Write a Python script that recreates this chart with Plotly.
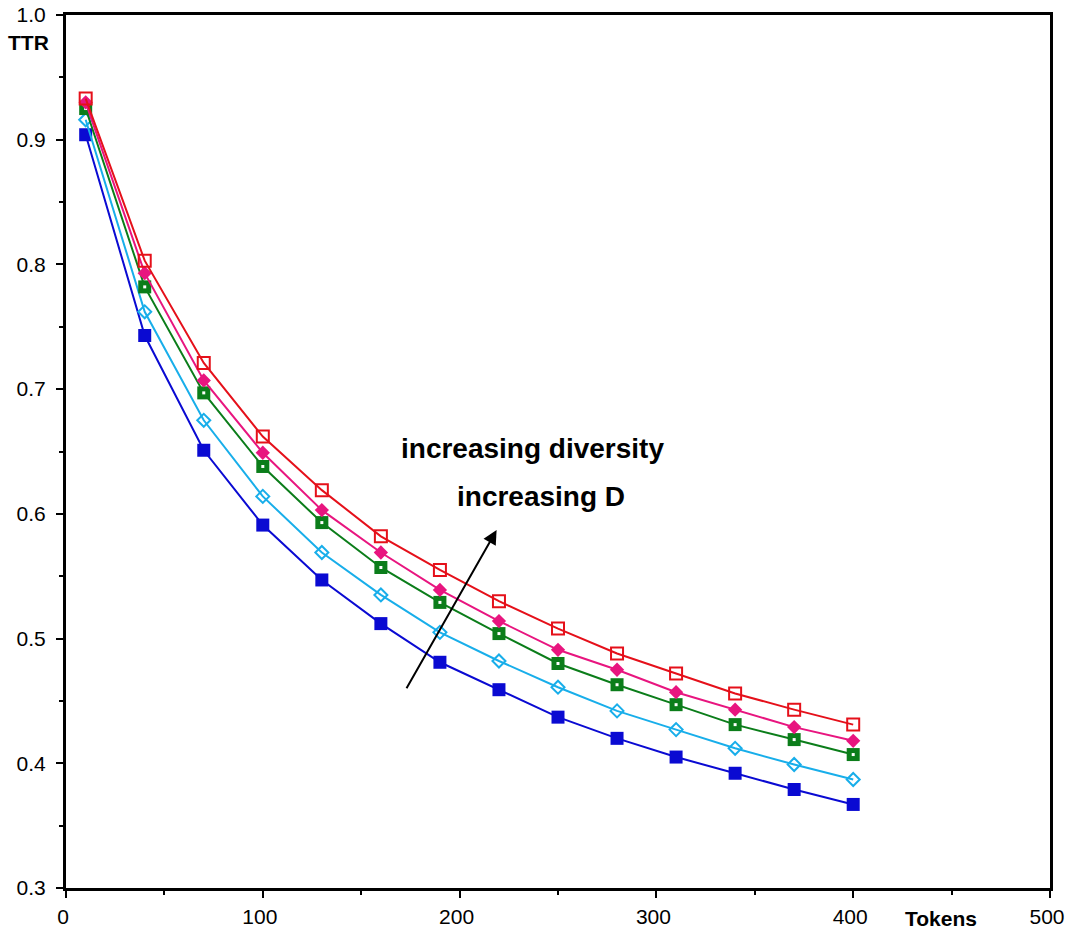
import plotly.graph_objects as go

tokens = [10, 40, 70, 100, 130, 160, 190, 220, 250, 280, 310, 340, 370, 400]

ttr_red = [0.933, 0.803, 0.721, 0.662, 0.619, 0.582, 0.555, 0.530, 0.508, 0.488, 0.472, 0.456, 0.443, 0.431]
ttr_pink = [0.930, 0.793, 0.707, 0.649, 0.603, 0.569, 0.539, 0.514, 0.491, 0.475, 0.457, 0.443, 0.429, 0.418]
ttr_green = [0.925, 0.782, 0.697, 0.638, 0.593, 0.557, 0.529, 0.504, 0.480, 0.463, 0.447, 0.431, 0.419, 0.407]
ttr_cyan = [0.916, 0.762, 0.675, 0.614, 0.569, 0.535, 0.505, 0.482, 0.461, 0.442, 0.427, 0.412, 0.399, 0.387]
ttr_blue = [0.904, 0.743, 0.651, 0.591, 0.547, 0.512, 0.481, 0.459, 0.437, 0.420, 0.405, 0.392, 0.379, 0.367]

FONT = "Liberation Sans, Arial, sans-serif"

fig = go.Figure()

def add(y, color, symbol, size, line_w=None, fill=None):
    fig.add_trace(go.Scatter(
        x=tokens, y=y, mode="lines+markers",
        line=dict(color=color, width=2),
        marker=dict(symbol=symbol, size=size, color=fill if fill else color,
                    line=dict(color=color, width=line_w if line_w else 0)),
        showlegend=False, hoverinfo="skip"))

add(ttr_blue, "#0a0ad2", "square", 13)
add(ttr_cyan, "#18aeea", "diamond-open", 10, line_w=2)
add(ttr_green, "#0b7d1a", "square", 13)
fig.add_trace(go.Scatter(x=tokens, y=ttr_green, mode="markers",
                         marker=dict(symbol="square", size=3, color="white"),
                         showlegend=False, hoverinfo="skip"))
add(ttr_pink, "#e8157f", "diamond", 11)
add(ttr_red, "#e5101a", "square-open", 12, line_w=2)

# arrow: head at (x, y), tail at (ax, ay)
fig.add_annotation(x=218.8, y=0.587, ax=172.6, ay=0.459, xref="x", yref="y",
                   axref="x", ayref="y", text="", showarrow=True,
                   arrowhead=2, arrowsize=1.4, arrowwidth=2, arrowcolor="black",
                   standoff=0, startstandoff=0)

fig.add_annotation(x=0.4736, y=0.504, xref="paper", yref="paper", showarrow=False,
                   xanchor="center", yanchor="middle",
                   text="<b>increasing diversity</b>", font=dict(family=FONT, size=28, color="black"))
fig.add_annotation(x=0.4827, y=0.448, xref="paper", yref="paper", showarrow=False,
                   xanchor="center", yanchor="middle",
                   text="<b>increasing D</b>", font=dict(family=FONT, size=28, color="black"))
fig.add_annotation(x=-0.0386, y=0.968, xref="paper", yref="paper", showarrow=False,
                   xanchor="center", yanchor="middle",
                   text="<b>TTR</b>", font=dict(family=FONT, size=21, color="black"))
fig.add_annotation(x=0.889, y=-0.0355, xref="paper", yref="paper", showarrow=False,
                   xanchor="center", yanchor="middle",
                   text="<b>Tokens</b>", font=dict(family=FONT, size=21, color="black"))

axis_common = dict(showline=True, linewidth=3, linecolor="black", mirror=True,
                   ticks="outside", ticklen=7, tickwidth=2, tickcolor="black",
                   showgrid=False, zeroline=False, automargin=False,
                   ticklabeloverflow="allow",
                   tickfont=dict(family=FONT, size=21, color="black"))

fig.update_xaxes(range=[0, 500], dtick=100, tickformat="d", ticklabelstandoff=1,
                 ticklabelshift=-3,
                 minor=dict(dtick=50, ticks="outside", ticklen=4, tickwidth=2, tickcolor="black"),
                 **axis_common)
fig.update_yaxes(range=[0.3, 1.0], dtick=0.1, tickformat=".1f", ticklabelstandoff=6,
                 minor=dict(dtick=0.05, ticks="outside", ticklen=4, tickwidth=2, tickcolor="black"),
                 **axis_common)

fig.update_layout(width=1066, height=929, plot_bgcolor="white", paper_bgcolor="white",
                  margin=dict(l=66, r=16, t=15, b=41), font=dict(family=FONT))

fig.write_html("out.html", config={"displayModeBar": False},
               post_script="document.body.style.margin='0';")
